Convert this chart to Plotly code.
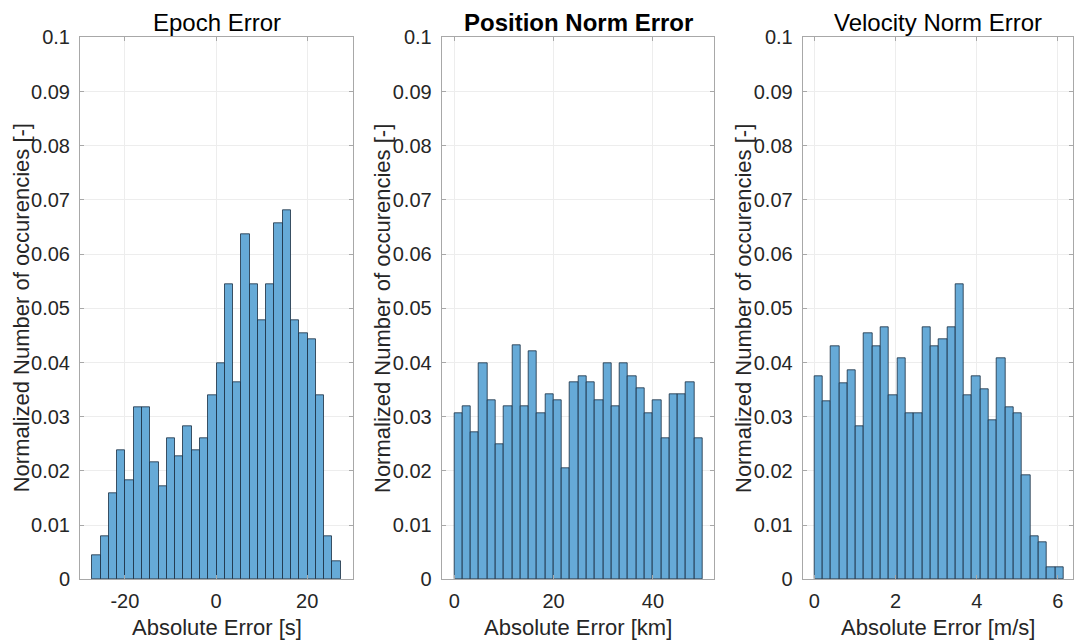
import plotly.graph_objects as go

# ---------------- data ----------------
titles = ["Epoch Error", "Position Norm Error", "Velocity Norm Error"]
xlabels = ["Absolute Error [s]", "Absolute Error [km]", "Absolute Error [m/s]"]
ylabel = "Normalized Number of occurencies [-]"

epoch_bin_start = -27.13
epoch_bin_width = 1.816
epoch_values = [0.0044, 0.0079, 0.0159, 0.0238, 0.0182, 0.0318, 0.0318, 0.0215, 0.0171, 0.0261,
                0.0227, 0.0283, 0.0238, 0.0261, 0.0340, 0.0398, 0.0545, 0.0364, 0.0636, 0.0545,
                0.0477, 0.0545, 0.0657, 0.0680, 0.0477, 0.0454, 0.0442, 0.0340, 0.0079, 0.0034]

pos_bin_start = 0.0
pos_bin_width = 1.6667
pos_values = [0.0307, 0.0319, 0.0272, 0.0398, 0.0330, 0.0250, 0.0319, 0.0432, 0.0319, 0.0420,
              0.0307, 0.0341, 0.0330, 0.0204, 0.0364, 0.0375, 0.0364, 0.0330, 0.0398, 0.0319,
              0.0398, 0.0375, 0.0352, 0.0307, 0.0330, 0.0261, 0.0341, 0.0341, 0.0364, 0.0261]

vel_bin_start = 0.0
vel_bin_width = 0.2047
vel_values = [0.0374, 0.0328, 0.0430, 0.0362, 0.0386, 0.0283, 0.0453, 0.0430, 0.0465, 0.0339,
              0.0408, 0.0306, 0.0306, 0.0465, 0.0430, 0.0442, 0.0465, 0.0544, 0.0339, 0.0374,
              0.0351, 0.0294, 0.0408, 0.0317, 0.0306, 0.0192, 0.0079, 0.0068, 0.0022, 0.0022]

x_ranges = [[-29.84, 30.12], [-2.54, 52.36], [-0.286, 6.38]]
x_tickvals = [[-20, 0, 20], [0, 20, 40], [0, 2, 4, 6]]
x_ticktext = [["-20", "0", "20"], ["0", "20", "40"], ["0", "2", "4", "6"]]
y_tickvals = [0, 0.01, 0.02, 0.03, 0.04, 0.05, 0.06, 0.07, 0.08, 0.09, 0.1]
y_ticktext = ["0", "0.01", "0.02", "0.03", "0.04", "0.05", "0.06", "0.07", "0.08", "0.09", "0.1"]

# ---------------- layout constants ----------------
W, H = 1076, 641
x_dom_px = [(80, 353.3), (441.7, 714.3), (802.7, 1073.3)]
y_top_px, y_bot_px = 37.3, 579.3

FONT = "Liberation Sans, Arial, Helvetica, sans-serif"
TXT = "#262626"
BOX = "#a8a8a8"
GRID = "#ededed"
FILL = "rgb(102,170,215)"
EDGE = "rgba(25,45,65,0.8)"

series = [
    (epoch_bin_start, epoch_bin_width, epoch_values),
    (pos_bin_start, pos_bin_width, pos_values),
    (vel_bin_start, vel_bin_width, vel_values),
]

fig = go.Figure()
for i, (start, width, vals) in enumerate(series):
    centers = [start + width * (k + 0.5) for k in range(len(vals))]
    fig.add_trace(go.Bar(
        x=centers, y=vals, width=width,
        marker=dict(color=FILL, line=dict(color=EDGE, width=1)),
        xaxis="x" if i == 0 else f"x{i+1}",
        yaxis="y" if i == 0 else f"y{i+1}",
        showlegend=False, hoverinfo="x+y",
    ))

ydom = [1 - y_bot_px / H, 1 - y_top_px / H]
layout = dict(
    width=W, height=H,
    margin=dict(l=0, r=0, t=0, b=0, pad=0, autoexpand=False),
    paper_bgcolor="white", plot_bgcolor="white",
    bargap=0,
    font=dict(family=FONT, color=TXT),
)
annotations = []
for i in range(3):
    sx = "" if i == 0 else str(i + 1)
    x0, x1 = x_dom_px[i]
    layout[f"xaxis{sx}"] = dict(
        domain=[x0 / W, x1 / W], anchor=f"y{sx}", range=x_ranges[i],
        tickvals=x_tickvals[i], ticktext=x_ticktext[i],
        tickfont=dict(size=20, color=TXT, family=FONT),
        showgrid=True, gridcolor=GRID, gridwidth=1, zeroline=False,
        showline=True, linecolor=BOX, linewidth=1, mirror="ticks",
        ticks="inside", ticklen=4, tickcolor=BOX, ticklabelstandoff=4,
        automargin=False,
    )
    layout[f"yaxis{sx}"] = dict(
        domain=ydom, anchor=f"x{sx}", range=[0, 0.1],
        tickvals=y_tickvals, ticktext=y_ticktext,
        tickfont=dict(size=20, color=TXT, family=FONT),
        showgrid=True, gridcolor=GRID, gridwidth=1, zeroline=False,
        showline=True, linecolor=BOX, linewidth=1, mirror="ticks",
        ticks="inside", ticklen=4, tickcolor=BOX, ticklabelstandoff=5,
        automargin=False,
    )
    cx = (x0 + x1) / 2 / W
    annotations.append(dict(
        text=(f"<b>{titles[i]}</b>" if i == 1 else titles[i]),
        x=cx, y=1 - 22 / H, xref="paper", yref="paper",
        xanchor="center", yanchor="middle", showarrow=False,
        font=dict(size=24, color="#000000", family=FONT),
    ))
    annotations.append(dict(
        text=xlabels[i], x=cx, y=1 - 627 / H, xref="paper", yref="paper",
        xanchor="center", yanchor="middle", showarrow=False,
        font=dict(size=22, color=TXT, family=FONT),
    ))
    annotations.append(dict(
        text=ylabel, x=(x0 - 59) / W, y=(ydom[0] + ydom[1]) / 2,
        xref="paper", yref="paper", xanchor="center", yanchor="middle",
        textangle=-90, showarrow=False,
        font=dict(size=22, color=TXT, family=FONT),
    ))
layout["annotations"] = annotations
fig.update_layout(**layout)

fig.write_html("out.html")
